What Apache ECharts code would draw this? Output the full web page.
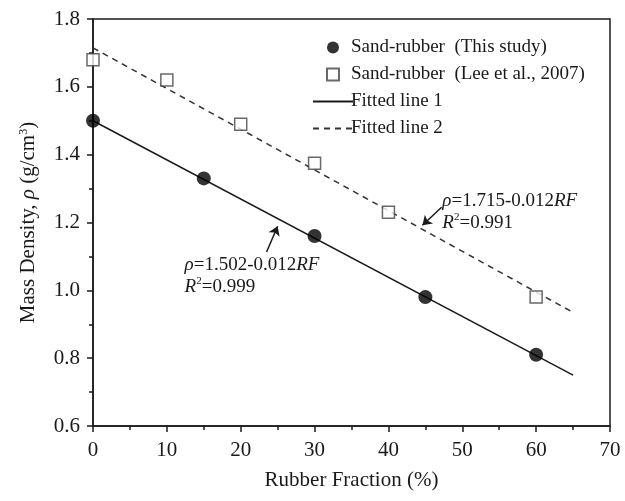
<!DOCTYPE html>
<html>
<head>
<meta charset="utf-8">
<script src="https://cdn.jsdelivr.net/npm/echarts@6/dist/echarts.min.js"></script>
<style>
  html, body { margin: 0; padding: 0; background: #fff; }
  #chart { width: 625px; height: 501px; }
</style>
</head>
<body>
<div id="chart"></div>
<script>
//--------------------- Data ---------------------------//
// Sand-rubber, this study
const studyX = [0, 15, 30, 45, 60];
const studyY = [1.50, 1.33, 1.16, 0.98, 0.81];

// Sand-rubber, Lee et al. 2007
const leeX = [0, 10, 20, 30, 40, 60];
const leeY = [1.68, 1.62, 1.49, 1.375, 1.23, 0.98];

// Fitted lines (end points as drawn)
const fit1X = [0, 65];
const fit1Y = [1.50, 0.75];
const fit2X = [0, 65];
const fit2Y = [1.715, 0.935];

// Arrows pointing at the fitted lines [from, to]
const arrow1 = [[23.5, 1.113], [25, 1.189]];
const arrow2 = [[47.2, 1.245], [44.6, 1.192]];

// Equation labels anchor points
const eq1At = [12.4, 1.042];
const eq2At = [47.3, 1.231];

const legendNames = [
  'Sand-rubber  (This study)',
  'Sand-rubber  (Lee et al., 2007)',
  'Fitted line 1',
  'Fitted line 2'
];

//--------------------- Helpers ---------------------------//
const zip = (xs, ys) => xs.map((x, i) => [x, ys[i]]);
const FONT = '"Liberation Serif", "DejaVu Serif", serif';
const INK = '#1a1a1a';
const CLEAR = 'rgba(0,0,0,0)';
// square drawn as a path so the legend keeps it square
const SQUARE = 'path://M0,0L10,0L10,10L0,10Z';

const eqRich = {
  n: { fontFamily: FONT, fontSize: 19, color: INK, lineHeight: 22 },
  i: { fontFamily: FONT, fontSize: 19, fontStyle: 'italic', color: INK, lineHeight: 22 },
  sup: { fontFamily: FONT, fontSize: 11, color: INK, verticalAlign: 'top', lineHeight: 22 }
};

function arrowLine(pts) {
  return [{ coord: pts[0] }, { coord: pts[1] }];
}

//--------------------- Chart ---------------------------//
const chart = echarts.init(document.getElementById('chart'));

const option = {
  animation: false,
  backgroundColor: '#fff',
  grid: {
    left: 93, right: 15, top: 19, bottom: 75,
    show: true, borderColor: INK, borderWidth: 1.5, backgroundColor: 'transparent'
  },
  legend: {
    data: legendNames,
    orient: 'vertical',
    left: 307,
    top: 33,
    itemWidth: 40,
    itemHeight: 12,
    itemGap: 8,
    symbolKeepAspect: true,
    textStyle: { fontFamily: FONT, fontSize: 19, color: INK, padding: [0, 0, 0, -7] }
  },
  xAxis: {
    type: 'value',
    min: 0, max: 70, interval: 10,
    name: 'Rubber Fraction (%)',
    nameLocation: 'middle',
    nameGap: 44,
    nameTextStyle: { fontFamily: FONT, fontSize: 21, color: INK },
    axisLine: { show: true, lineStyle: { color: INK, width: 1.5 } },
    axisTick: { show: true, inside: false, length: 6, lineStyle: { color: INK, width: 1.5 } },
    minorTick: { show: true, splitNumber: 2, length: 4, lineStyle: { color: INK, width: 1.5 } },
    axisLabel: { fontFamily: FONT, fontSize: 21, color: INK, margin: 14 },
    splitLine: { show: false }
  },
  yAxis: {
    type: 'value',
    min: 0.6, max: 1.8, interval: 0.2,
    name: 'Mass Density, {i|ρ} (g/cm{sup|3})',
    nameLocation: 'middle',
    nameGap: 54,
    nameTextStyle: {
      fontFamily: FONT, fontSize: 21, color: INK,
      rich: {
        i: { fontFamily: FONT, fontSize: 21, fontStyle: 'italic', color: INK },
        sup: { fontFamily: FONT, fontSize: 12, color: INK, verticalAlign: 'top' }
      }
    },
    axisLine: { show: true, lineStyle: { color: INK, width: 1.5 } },
    axisTick: { show: true, inside: false, length: 6, lineStyle: { color: INK, width: 1.5 } },
    minorTick: { show: true, splitNumber: 2, length: 4, lineStyle: { color: INK, width: 1.5 } },
    axisLabel: {
      fontFamily: FONT, fontSize: 21, color: INK, margin: 13,
      formatter: v => v.toFixed(1)
    },
    splitLine: { show: false }
  },
  series: [
    {
      name: legendNames[2],
      type: 'line',
      data: zip(fit1X, fit1Y),
      symbol: 'none',
      itemStyle: { color: CLEAR, borderWidth: 0 },
      lineStyle: { color: INK, width: 1.5, type: 'solid' },
      z: 2,
      markLine: {
        silent: true,
        symbol: ['none', 'arrow'],
        symbolSize: 9,
        lineStyle: { color: INK, width: 1.5, type: 'solid' },
        itemStyle: { color: INK },
        label: { show: false },
        data: [arrowLine(arrow1)]
      },
      markPoint: {
        symbol: 'circle',
        symbolSize: 0,
        label: {
          show: true,
          position: 'right',
          distance: 0,
          align: 'left',
          formatter: '{i|ρ}{n|=1.502-0.012}{i|RF}\n{i|R}{sup|2}{n|=0.999}',
          rich: eqRich
        },
        data: [{ coord: eq1At }]
      }
    },
    {
      name: legendNames[3],
      type: 'line',
      data: zip(fit2X, fit2Y),
      symbol: 'none',
      itemStyle: { color: CLEAR, borderWidth: 0 },
      lineStyle: { color: '#333', width: 1.5, type: [6, 5] },
      z: 2,
      markLine: {
        silent: true,
        symbol: ['none', 'arrow'],
        symbolSize: 9,
        lineStyle: { color: INK, width: 1.5, type: 'solid' },
        itemStyle: { color: INK },
        label: { show: false },
        data: [arrowLine(arrow2)]
      },
      markPoint: {
        symbol: 'circle',
        symbolSize: 0,
        label: {
          show: true,
          position: 'right',
          distance: 0,
          align: 'left',
          formatter: '{i|ρ}{n|=1.715-0.012}{i|RF}\n{i|R}{sup|2}{n|=0.991}',
          rich: eqRich
        },
        data: [{ coord: eq2At }]
      }
    },
    {
      name: legendNames[0],
      type: 'scatter',
      data: zip(studyX, studyY),
      symbol: 'circle',
      symbolSize: 14,
      itemStyle: { color: '#000' },
      z: 5
    },
    {
      name: legendNames[1],
      type: 'scatter',
      data: zip(leeX, leeY),
      symbol: SQUARE,
      symbolSize: 12,
      symbolKeepAspect: true,
      itemStyle: { color: '#fff', borderColor: '#444', borderWidth: 1.5 },
      z: 5
    }
  ]
};

option && chart.setOption(option);
</script>
</body>
</html>
